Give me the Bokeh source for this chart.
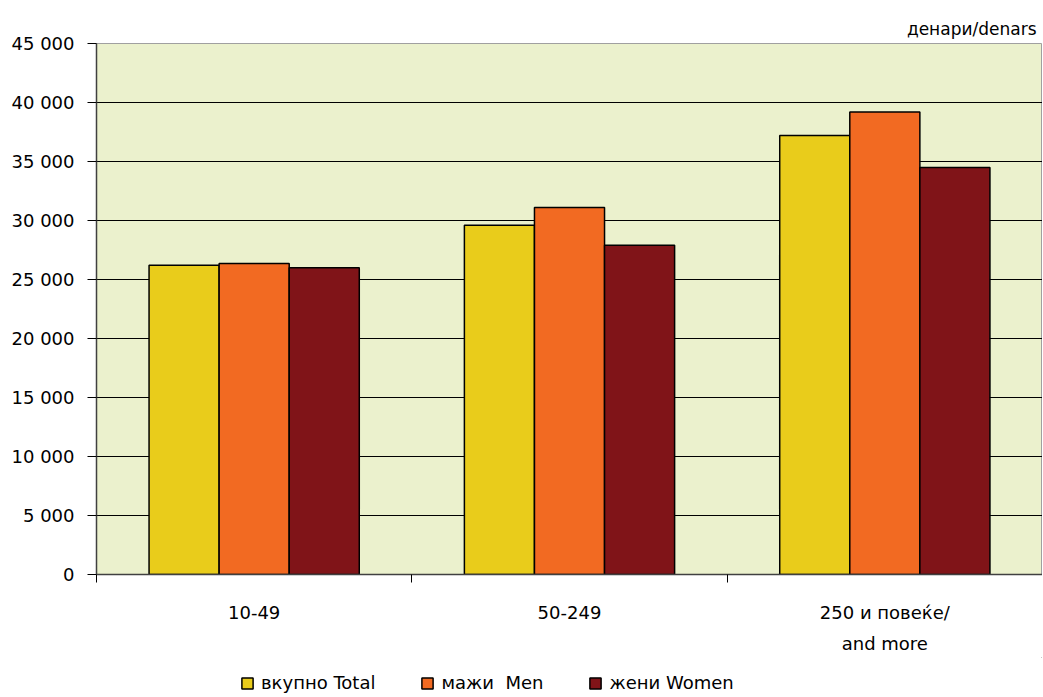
from bokeh.plotting import figure
from bokeh.layouts import column
from bokeh.models import FixedTicker, Legend, LegendItem, ColumnDataSource, Range1d
from bokeh.embed import file_html
from bokeh.resources import INLINE

categories = ["10-49", "50-249", "250 и повеќе/\nand more"]
series_names = ["вкупно Total", "мажи  Men", "жени Women"]
total = [26200, 29600, 37200]
men = [26350, 31100, 39200]
women = [26000, 27900, 34500]
colors = ["#E9CC1B", "#F26A22", "#801418"]
y_ticks = [0, 5000, 10000, 15000, 20000, 25000, 30000, 35000, 40000, 45000]
y_tick_labels = ["0", "5 000", "10 000", "15 000", "20 000", "25 000",
                 "30 000", "35 000", "40 000", "45 000"]
unit_label = "денари/denars"

FONT = "DejaVu Sans"
FS = "18px"

p = figure(frame_width=946, frame_height=531, output_backend="svg", toolbar_location=None,
           x_range=Range1d(0, len(categories)), y_range=Range1d(0, 45000),
           min_border_left=96, min_border_right=0, min_border_top=43,
           min_border_bottom=0)

p.background_fill_color = "#EBF1CD"
p.border_fill_color = "white"
p.outline_line_color = "#A0A0A0"
p.outline_line_width = 1

bar_w = 1 / 4.5
centers = [i + 0.5 for i in range(len(categories))]
for k, (vals, col) in enumerate(zip([total, men, women], colors)):
    xs = [c + (k - 1) * bar_w for c in centers]
    src = ColumnDataSource(dict(x=xs, top=vals))
    p.vbar(x="x", top="top", width=bar_w, bottom=0, source=src,
           fill_color=col, line_color="black", line_width=1.5)

# x axis
xt = FixedTicker(ticks=centers, minor_ticks=list(range(len(categories) + 1)))
p.xaxis.ticker = xt
p.xaxis.major_label_overrides = {c: lab for c, lab in zip(centers, categories)}
p.xaxis.major_tick_out = 0
p.xaxis.major_tick_in = 0
p.xaxis.minor_tick_out = 8
p.xaxis.minor_tick_in = 0
p.xaxis.minor_tick_line_color = "black"
p.xaxis.axis_line_color = "#404040"
p.xaxis.axis_line_width = 1.5
p.xaxis.major_label_text_font = FONT
p.xaxis.major_label_text_font_size = FS
p.xaxis.major_label_text_color = "black"
p.xaxis.major_label_text_line_height = 1.5
p.xaxis.major_label_standoff = 19
p.xgrid.visible = False

# y axis
p.yaxis.ticker = FixedTicker(ticks=y_ticks)
p.yaxis.major_label_overrides = {t: l for t, l in zip(y_ticks, y_tick_labels)}
p.yaxis.major_tick_out = 9
p.yaxis.major_tick_in = 0
p.yaxis.minor_tick_out = 0
p.yaxis.minor_tick_in = 0
p.yaxis.major_tick_line_color = "black"
p.yaxis.axis_line_color = "#404040"
p.yaxis.axis_line_width = 1.5
p.yaxis.major_label_text_font = FONT
p.yaxis.major_label_text_font_size = FS
p.yaxis.major_label_text_color = "black"
p.yaxis.major_label_standoff = 13
p.ygrid.ticker = FixedTicker(ticks=y_ticks[1:-1])
p.ygrid.grid_line_color = "black"
p.ygrid.grid_line_width = 1

# unit title
p.title.text = unit_label
p.title.align = "right"
p.title.text_font = FONT
p.title.text_font_size = "17px"
p.title.text_font_style = "normal"
p.title.text_color = "black"
p.title.offset = 6

# legend strip below the chart
lf = figure(frame_width=946, frame_height=36, output_backend="svg", toolbar_location=None,
            x_range=Range1d(0, 1), y_range=Range1d(0, 1),
            min_border_left=96, min_border_right=0, min_border_top=0, min_border_bottom=0,
            x_axis_location=None, y_axis_location=None)
lf.outline_line_color = None
lf.background_fill_color = "white"
lf.border_fill_color = "white"
lf.xgrid.visible = False
lf.ygrid.visible = False
swatches = []
for col in colors:
    swatches.append(lf.vbar(x=[5.0], top=[5.0], bottom=4.0, width=0.1,
                            fill_color=col, line_color="black", line_width=1.5))

legend = Legend(items=[LegendItem(label=n, renderers=[r]) for n, r in zip(series_names, swatches)],
                orientation="horizontal", location=(144, 0),
                label_text_font=FONT, label_text_font_size=FS, label_text_color="black",
                label_height=14, glyph_width=14, glyph_height=14, spacing=45, label_standoff=7,
                border_line_color=None, background_fill_alpha=0,
                padding=0, margin=0)
lf.add_layout(legend)

layout = column(p, lf, spacing=0)
open("out.html", "w").write(file_html(layout, INLINE))
